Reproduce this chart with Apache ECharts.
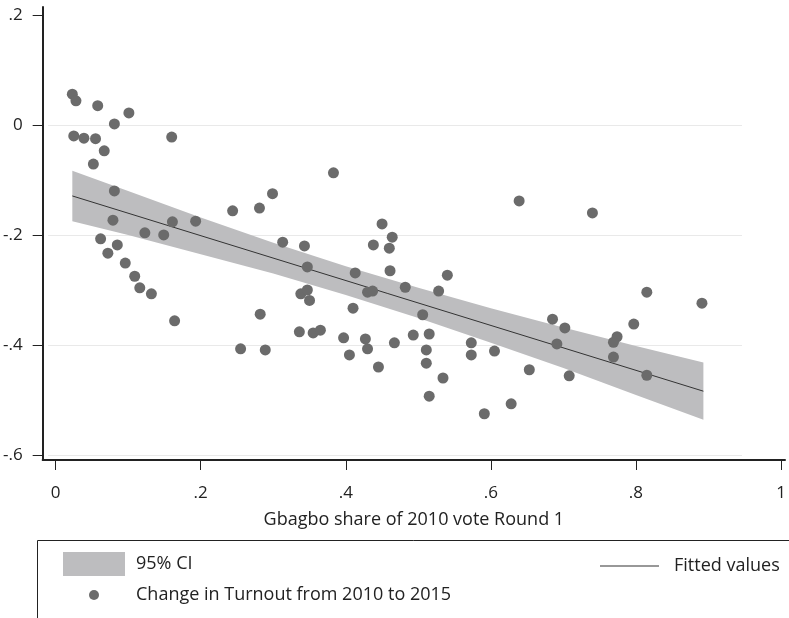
<!DOCTYPE html>
<html>
<head>
<meta charset="utf-8">
<script src="https://cdn.jsdelivr.net/npm/echarts@6/dist/echarts.min.js"></script>
<style>html,body{margin:0;padding:0;background:#fff;}#c{width:789px;height:618px;}</style>
</head>
<body>
<div id="c"></div>
<script>
// ---- data ----
const xTicks = [0, 0.2, 0.4, 0.6, 0.8, 1];
const yTicks = [0.2, 0, -0.2, -0.4, -0.6];
const gridY = [0, -0.2, -0.4, -0.6];

const turnoutX = [
  0.023, 0.028, 0.058, 0.101, 0.081, 0.160, 0.025, 0.039, 0.055, 0.067, 0.052, 0.081, 0.079,
  0.161, 0.193, 0.123, 0.149, 0.062, 0.085, 0.072, 0.096, 0.109, 0.116, 0.132, 0.164,
  0.383, 0.299, 0.281, 0.244, 0.450, 0.464, 0.438, 0.460, 0.313, 0.343, 0.347, 0.413, 0.461,
  0.338, 0.347, 0.350, 0.430, 0.437, 0.410, 0.282, 0.336, 0.355, 0.365, 0.397, 0.427, 0.430,
  0.467, 0.255, 0.289, 0.405, 0.445,
  0.639, 0.540, 0.482, 0.528, 0.506, 0.685, 0.691, 0.493, 0.515, 0.511, 0.511, 0.573, 0.573,
  0.605, 0.534, 0.653, 0.515, 0.628, 0.591,
  0.740, 0.815, 0.891, 0.702, 0.797, 0.774, 0.769, 0.769, 0.708, 0.815
];
const turnoutY = [
  0.056, 0.044, 0.035, 0.022, 0.002, -0.022, -0.020, -0.024, -0.025, -0.047, -0.071, -0.120, -0.173,
  -0.176, -0.175, -0.196, -0.200, -0.207, -0.218, -0.233, -0.251, -0.275, -0.296, -0.307, -0.356,
  -0.087, -0.125, -0.151, -0.156, -0.180, -0.204, -0.218, -0.224, -0.213, -0.220, -0.258, -0.269, -0.265,
  -0.307, -0.300, -0.319, -0.304, -0.302, -0.333, -0.344, -0.376, -0.378, -0.373, -0.387, -0.389, -0.407,
  -0.396, -0.407, -0.409, -0.418, -0.440,
  -0.138, -0.273, -0.295, -0.302, -0.345, -0.353, -0.398, -0.382, -0.380, -0.409, -0.433, -0.396, -0.418,
  -0.411, -0.460, -0.445, -0.493, -0.507, -0.525,
  -0.160, -0.304, -0.324, -0.369, -0.362, -0.385, -0.395, -0.422, -0.456, -0.455
];

const fitX = [0.023, 0.893];
const fitY = [-0.129, -0.484];

const ciX     = [0.023, 0.1, 0.2, 0.3, 0.4, 0.5, 0.6, 0.7, 0.8, 0.893];
const ciUpper = [-0.083, -0.120, -0.168, -0.214, -0.257, -0.296, -0.333, -0.368, -0.402, -0.432];
const ciLower = [-0.175, -0.200, -0.235, -0.270, -0.309, -0.351, -0.396, -0.442, -0.491, -0.536];

const names = ['95% CI', 'Fitted values', 'Change in Turnout from 2010 to 2015'];
const axisTitle = 'Gbagbo share of 2010 vote Round 1';

// ---- chart ----
const FONT = 'Open Sans';
const FS = 17;
const FS2 = 18;
const fmt = v => String(Math.round(v * 10) / 10).replace(/^(-?)0\./, '$1.');

const chart = echarts.init(document.getElementById('c'), null, {renderer: 'canvas'});
chart.setOption({
  animation: false,
  backgroundColor: '#fff',
  textStyle: {fontFamily: FONT},
  grid: [
    {left: 42, right: 4, top: 7, bottom: 158, containLabel: false},
    {left: 48, right: 47, top: 125, bottom: 163, containLabel: false}
  ],
  xAxis: [
    {
      type: 'value', gridIndex: 0, min: -0.0179, max: 1.0055,
      name: axisTitle, nameLocation: 'middle', nameGap: 51,
      nameTextStyle: {fontFamily: FONT, fontSize: FS2, color: '#222'},
      axisLine: {show: true, onZero: false, lineStyle: {color: '#222', width: 2}},
      axisTick: {show: true, length: 10, customValues: xTicks, lineStyle: {color: '#222', width: 1}},
      axisLabel: {show: true, customValues: xTicks, formatter: fmt, margin: 25,
        fontFamily: FONT, fontSize: FS, color: '#222'},
      splitLine: {show: false}
    },
    {type: 'value', gridIndex: 1, min: 0, max: 1, show: false}
  ],
  yAxis: [
    {
      type: 'value', gridIndex: 0, min: -0.6091, max: 0.2145,
      axisLine: {show: true, onZero: false, lineStyle: {color: '#222', width: 2}},
      axisTick: {show: true, length: 10, customValues: yTicks, lineStyle: {color: '#222', width: 1}},
      axisLabel: {show: true, customValues: yTicks, formatter: fmt, margin: 20,
        fontFamily: FONT, fontSize: FS, color: '#222'},
      splitLine: {show: false}
    },
    {
      type: 'value', gridIndex: 1, min: -0.6, max: 0, interval: 0.2,
      axisLine: {show: false}, axisTick: {show: false}, axisLabel: {show: false},
      splitLine: {show: true, lineStyle: {color: '#e9e9e9', width: 1}}
    }
  ],
  legend: [
    {data: [names[0]], left: 63, top: 552, padding: 0, icon: 'rect', itemWidth: 62, itemHeight: 24,
      selectedMode: false,
      textStyle: {fontFamily: FONT, fontSize: FS2, color: '#222', lineHeight: 20, padding: [0, 0, 0, 6]}},
    {data: [names[1]], left: 600, top: 556, padding: 0, icon: 'rect', itemWidth: 59, itemHeight: 1,
      selectedMode: false,
      textStyle: {fontFamily: FONT, fontSize: FS2, color: '#222', lineHeight: 20, padding: [0, 0, 0, 10]}},
    {data: [names[2]], left: 89, top: 585, padding: 0, icon: 'circle', itemWidth: 10, itemHeight: 10,
      selectedMode: false,
      textStyle: {fontFamily: FONT, fontSize: FS2, color: '#222', lineHeight: 20, padding: [0, 0, 0, 32]}}
  ],
  graphic: [
    {type: 'polyline', silent: true,
      shape: {points: [[37.5, 630], [37.5, 540.5], [800, 540.5]]},
      style: {stroke: '#222', lineWidth: 1, fill: null}}
  ],
  series: [
    {
      name: names[0], type: 'custom', xAxisIndex: 0, yAxisIndex: 0, z: 1, silent: true,
      itemStyle: {color: '#bdbdbf'},
      encode: {x: 0, y: [1, 2]},
      data: ciX.map((x, i) => [x, ciUpper[i], ciLower[i]]),
      renderItem: function (params, api) {
        if (params.dataIndex !== 0) return null;
        const pts = [];
        for (let i = 0; i < ciX.length; i++) pts.push(api.coord([ciX[i], ciUpper[i]]));
        for (let i = ciX.length - 1; i >= 0; i--) pts.push(api.coord([ciX[i], ciLower[i]]));
        return {type: 'polygon', shape: {points: pts}, style: {fill: '#bdbdbf'}};
      }
    },
    {
      name: names[1], type: 'line', xAxisIndex: 0, yAxisIndex: 0, z: 2, silent: true,
      symbol: 'none', color: '#333',
      lineStyle: {color: '#333', width: 1},
      data: fitX.map((x, i) => [x, fitY[i]])
    },
    {
      name: names[2], type: 'scatter', xAxisIndex: 0, yAxisIndex: 0, z: 3, silent: true,
      symbol: 'circle', symbolSize: 11,
      itemStyle: {color: '#6b6b6b', opacity: 1},
      data: turnoutX.map((x, i) => [x, turnoutY[i]])
    }
  ]
});
</script>
</body>
</html>
